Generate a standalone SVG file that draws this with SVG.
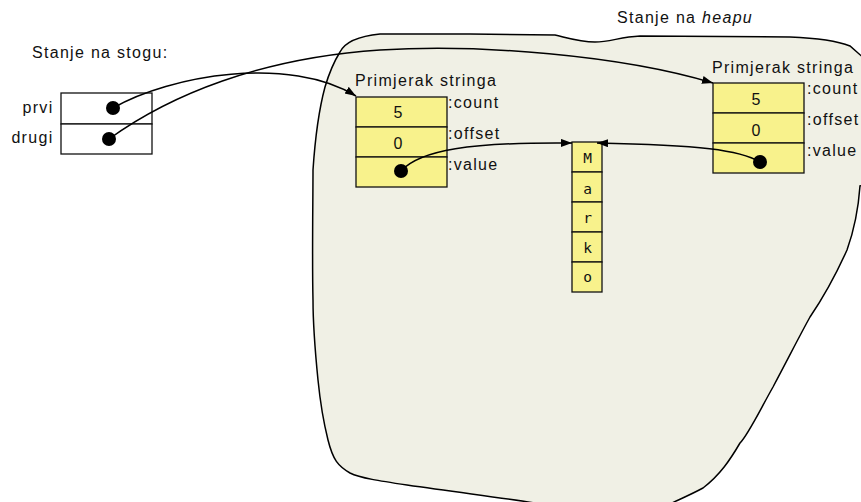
<svg xmlns="http://www.w3.org/2000/svg" width="861" height="502" viewBox="0 0 861 502">
<style>
.t{font-family:"Liberation Sans",Arial,sans-serif;font-size:16px;letter-spacing:1.3px;fill:#111}
.d{font-family:"Liberation Sans",Arial,sans-serif;font-size:16px;fill:#111;text-anchor:middle}
.m{font-family:"DejaVu Sans Mono","Liberation Mono",monospace;font-size:14.5px;fill:#111;text-anchor:middle}
.cell{fill:#f8f28c;stroke:#111;stroke-width:1.3}
.stk{fill:#fff;stroke:#111;stroke-width:1.3}
.dot{fill:#000}
.conn{fill:none;stroke:#000;stroke-width:1.5}
</style>
<defs>
<marker id="arr" markerUnits="userSpaceOnUse" markerWidth="12" markerHeight="10" refX="11" refY="4" orient="auto">
<path d="M0,0 L11,4 L0,8 Z" fill="#000"/>
</marker>
</defs>
<g id="heap">
<path d="M340,52 C345,42 360,36 380,34 L470,34 L555,35 C568,38 580,42 595,42 C610,42 620,37 640,36 L790,37 C815,38 835,40 850,46 L866,60 L866,185 L860,186 C859,200 856,225 847,250 C838,270 825,295 810,317 C800,335 790,355 773,387 C760,410 748,435 740,443 C730,460 720,475 703,488 C690,495 680,499 670,504 L540,504 C520,500 470,494 407,485 C380,481 360,478 350,473 C338,466 333,460 328,440 C323,420 320,400 318,380 C315,350 313,320 313,300 C312,260 313,200 313,170 C315,140 318,113 325,87 C330,70 335,60 340,52 Z" fill="#f0f0e5" stroke="#000" stroke-width="1.5"/>
<text class="t" x="617" y="23">Stanje na <tspan font-style="italic">heapu</tspan></text>
</g>
<g id="stack">
<text class="t" x="32" y="58">Stanje na stogu:</text>
<rect class="stk" x="61" y="93" width="91" height="31"/>
<rect class="stk" x="61" y="124" width="91" height="30"/>
<text class="t" x="53.5" y="113" text-anchor="end">prvi</text>
<text class="t" x="53.5" y="143" text-anchor="end">drugi</text>
<circle class="dot" cx="113" cy="108" r="7"/>
<circle class="dot" cx="109" cy="139" r="7"/>
</g>
<g id="string1">
<text class="t" x="355" y="86">Primjerak stringa</text>
<rect class="cell" x="356" y="97" width="91" height="30"/>
<rect class="cell" x="356" y="127" width="91" height="30"/>
<rect class="cell" x="356" y="157" width="91" height="30"/>
<text class="d" x="398" y="118">5</text>
<text class="d" x="398" y="149">0</text>
<text class="t" x="448" y="108">:count</text>
<text class="t" x="448" y="139">:offset</text>
<text class="t" x="448" y="170">:value</text>
<circle class="dot" cx="401" cy="171" r="7"/>
</g>
<g id="string2">
<text class="t" x="712" y="73">Primjerak stringa</text>
<rect class="cell" x="713" y="83" width="91" height="30"/>
<rect class="cell" x="713" y="113" width="91" height="30"/>
<rect class="cell" x="713" y="143" width="91" height="30"/>
<text class="d" x="756" y="105">5</text>
<text class="d" x="756" y="136">0</text>
<text class="t" x="807" y="94">:count</text>
<text class="t" x="807" y="125">:offset</text>
<text class="t" x="807" y="156">:value</text>
<circle class="dot" cx="760" cy="162" r="7"/>
</g>
<g id="chars">
<rect class="cell" x="572" y="142" width="30" height="30"/>
<rect class="cell" x="572" y="172" width="30" height="30"/>
<rect class="cell" x="572" y="202" width="30" height="30"/>
<rect class="cell" x="572" y="232" width="30" height="30"/>
<rect class="cell" x="572" y="262" width="30" height="30"/>
<text class="m" x="587.5" y="163">M</text>
<text class="m" x="587.5" y="194">a</text>
<text class="m" x="587.5" y="223">r</text>
<text class="m" x="587.5" y="253">k</text>
<text class="m" x="587.5" y="282">o</text>
</g>
<g id="connectors">
<path class="conn" marker-end="url(#arr)" d="M113,108 C170,75 290,55 356,96"/>
<path class="conn" marker-end="url(#arr)" d="M109,139 C170,95 260,58 380,50 C480,44 620,55 713,83"/>
<path class="conn" marker-end="url(#arr)" d="M401,171 C420,150 470,142 572,143"/>
<path class="conn" marker-end="url(#arr)" d="M760,162 C740,150 700,145 597,143"/>
</g>
</svg>
